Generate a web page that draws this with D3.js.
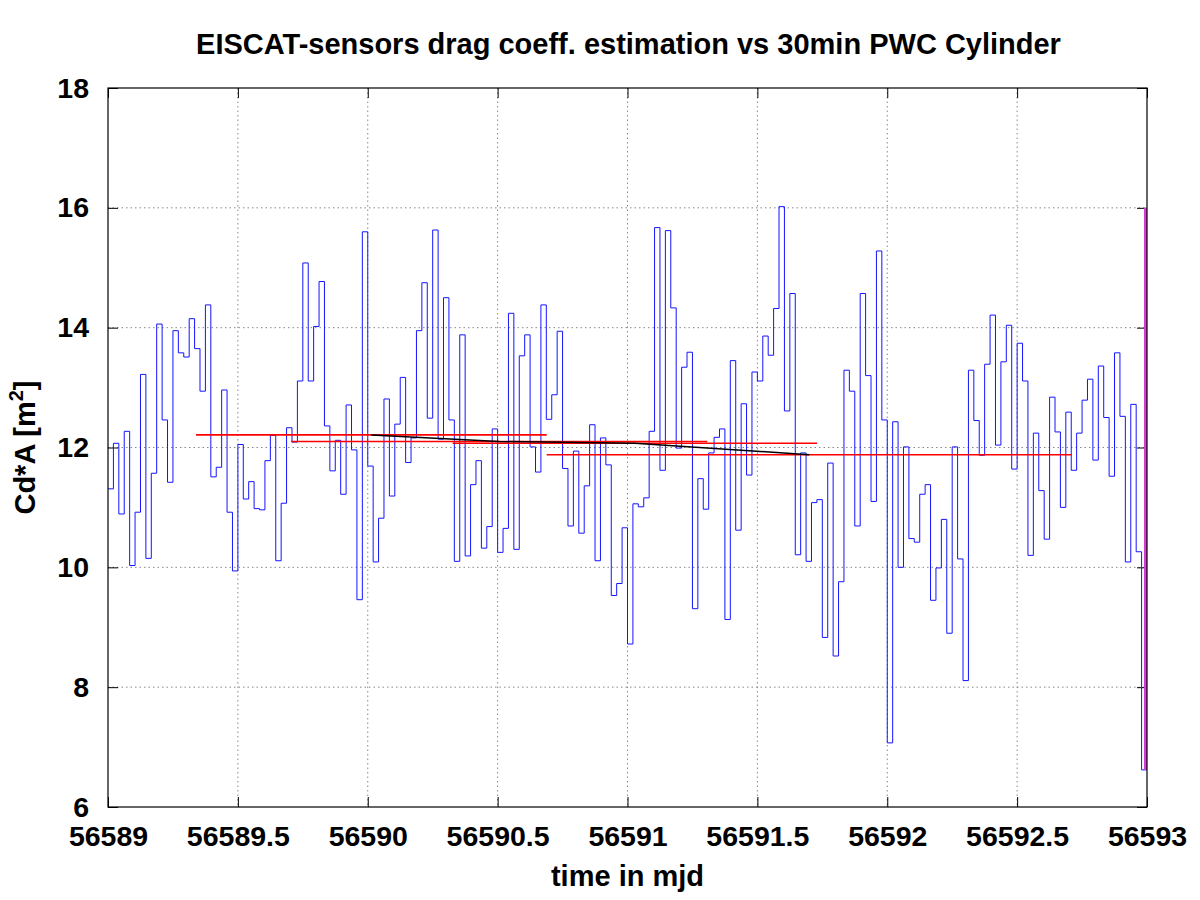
<!DOCTYPE html>
<html>
<head>
<meta charset="utf-8">
<script src="https://cdn.jsdelivr.net/npm/d3@7"></script>
<style>
  body { margin: 0; background: #fff; }
  svg { display: block; }
  text { font-family: "Liberation Sans", Arial, sans-serif; font-weight: bold; fill: #000; }
</style>
</head>
<body>
<svg id="chart" width="1200" height="900"></svg>
<script>
/* Cd*A estimado a partir dos sensores EISCAT, degraus de 30 min */

const BIN_START = 56589;          // mjd do primeiro degrau
const BIN_MINUTES = 30;
const cdaSteps = [
  11.31, 12.07, 10.89, 12.27, 10.03, 10.92, 13.22, 10.15, 11.57, 14.06, 12.46, 11.42,
  13.95, 13.58, 13.51, 14.15, 13.65, 12.94, 14.38, 11.51, 11.67, 12.96, 10.92, 9.94,
  12.05, 11.14, 11.43, 10.98, 10.96, 11.78, 12.20, 10.11, 11.07, 12.33, 12.09, 13.11,
  15.08, 13.11, 14.02, 14.77, 12.36, 11.61, 12.12, 11.22, 12.71, 11.96, 9.46, 15.60,
  11.69, 10.09, 10.82, 12.81, 11.19, 12.39, 13.17, 11.75, 12.16, 13.95, 14.75, 12.49,
  15.63, 12.14, 14.50, 12.46, 10.10, 13.88, 10.19, 11.38, 11.78, 10.32, 10.68, 12.31,
  10.25, 10.65, 14.24, 10.30, 13.53, 13.88, 12.01, 11.59, 14.38, 12.47, 12.88, 13.94,
  11.65, 10.69, 11.94, 10.57, 11.36, 12.38, 10.11, 12.16, 11.71, 9.53, 9.73, 10.66,
  8.72, 11.06, 11.01, 11.16, 12.27, 15.67, 11.62, 15.62, 14.33, 11.99, 13.34, 13.59,
  9.31, 11.48, 10.97, 11.91, 12.17, 12.31, 9.13, 13.45, 10.62, 12.73, 11.54, 13.26,
  13.11, 13.86, 13.54, 14.32, 16.02, 12.61, 14.57, 10.21, 11.91, 10.10, 11.08, 11.13,
  8.83, 11.74, 8.52, 9.76, 13.29, 12.94, 10.69, 14.57, 13.20, 11.10, 15.28, 12.46,
  7.07, 12.43, 10.00, 12.01, 10.48, 10.42, 11.22, 11.38, 9.45, 9.99, 10.80, 8.90,
  12.01, 10.14, 8.11, 13.29, 12.45, 11.87, 13.39, 14.21, 12.04, 13.43, 14.04, 11.64,
  13.74, 13.11, 10.20, 12.24, 11.28, 10.47, 12.84, 12.26, 11.00, 12.59, 11.62, 12.24,
  12.79, 13.14, 11.79, 13.36, 12.50, 11.52, 13.58, 12.52, 10.09, 12.72, 10.26, 6.62,
];

// médias por janela (segmentos vermelhos)
const fitStart = [56589.339, 56589.705, 56590.327, 56590.689];
const fitEnd   = [56590.689, 56591.307, 56591.730, 56592.711];
const fitValue = [12.21, 12.10, 12.07, 11.88];

// tendência ligando os centros das janelas
const trendT = [56590.014, 56590.506, 56591.028, 56591.700];
const trendV = [12.21, 12.10, 12.07, 11.88];

// traço magenta na borda direita
const edgeT = [56593, 56593];
const edgeV = [6.62, 16.0];

const xTicks = [56589, 56589.5, 56590, 56590.5, 56591, 56591.5, 56592, 56592.5, 56593];
const yTicks = [6, 8, 10, 12, 14, 16, 18];

const TITLE = "EISCAT-sensors drag coeff. estimation vs 30min PWC Cylinder";
const XLABEL = "time in mjd";

const L = 108, R = 1147, T = 88, B = 807;
const svg = d3.select("#chart");
const x = d3.scaleLinear().domain([56589, 56593]).range([L, R]);
const y = d3.scaleLinear().domain([6, 18]).range([B, T]);

/* grade pontilhada */
const grid = svg.append("g").attr("stroke", "#888").attr("stroke-width", 1)
  .attr("stroke-dasharray", "1.5,3");
grid.selectAll("line.gx").data(xTicks.slice(1, -1)).join("line")
  .attr("x1", (d) => x(d)).attr("x2", (d) => x(d)).attr("y1", T).attr("y2", B);
grid.selectAll("line.gy").data(yTicks.slice(1, -1)).join("line")
  .attr("y1", (d) => y(d)).attr("y2", (d) => y(d)).attr("x1", L).attr("x2", R);

/* eixos, ticks para dentro nos quatro lados */
const fmt = (d) => String(d);
const eixo = (gen, tx, ty, labels) => {
  const g = svg.append("g").attr("transform", `translate(${tx},${ty})`).call(gen);
  g.select(".domain").remove();
  g.selectAll(".tick line").attr("stroke", "#000").attr("stroke-width", 1);
  g.selectAll("text").attr("font-size", labels ? 28.5 : 0)
    .style("font-family", '"Liberation Sans", Arial, sans-serif').style("font-weight", "bold");
  return g;
};
eixo(d3.axisBottom(x).tickValues(xTicks).tickFormat(fmt).tickSize(-10).tickSizeOuter(0).tickPadding(19), 0, B, true);
eixo(d3.axisTop(x).tickValues(xTicks).tickFormat("").tickSize(-10).tickSizeOuter(0), 0, T, false);
eixo(d3.axisLeft(y).tickValues(yTicks).tickFormat(fmt).tickSize(-10).tickSizeOuter(0).tickPadding(19), L, 0, true);
eixo(d3.axisRight(y).tickValues(yTicks).tickFormat("").tickSize(-10).tickSizeOuter(0), R, 0, false);

/* série em degraus */
const pts = cdaSteps.map((v, i) => ({ t: BIN_START + i * BIN_MINUTES / 1440, v }));
pts.push({ t: BIN_START + cdaSteps.length * BIN_MINUTES / 1440, v: cdaSteps[cdaSteps.length - 1] });
svg.append("path").datum(pts)
  .attr("fill", "none").attr("stroke", "#1414ff").attr("stroke-width", 1)
  .attr("d", d3.line().x((d) => x(d.t)).y((d) => y(d.v)).curve(d3.curveStepAfter));

/* médias por janela */
svg.append("g").selectAll("line").data(fitValue).join("line")
  .attr("x1", (d, i) => x(fitStart[i])).attr("x2", (d, i) => x(fitEnd[i]))
  .attr("y1", (d) => y(d)).attr("y2", (d) => y(d))
  .attr("stroke", "#ff0000").attr("stroke-width", 1.6);

svg.append("path").datum(trendT.map((t, i) => [t, trendV[i]]))
  .attr("fill", "none").attr("stroke", "#000").attr("stroke-width", 1.5)
  .attr("d", d3.line().x((d) => x(d[0])).y((d) => y(d[1])));

svg.append("path").datum(edgeT.map((t, i) => [t, edgeV[i]]))
  .attr("fill", "none").attr("stroke", "#d040d0").attr("stroke-width", 3)
  .attr("transform", "translate(-1.5,0)")
  .attr("d", d3.line().x((d) => x(d[0])).y((d) => y(d[1])));

/* moldura */
svg.append("rect").attr("x", L).attr("y", T).attr("width", R - L).attr("height", B - T)
  .attr("fill", "none").attr("stroke", "#000").attr("stroke-width", 1.2);

/* textos */
svg.append("text").attr("x", (L + R) / 2 + 1).attr("y", 54)
  .attr("text-anchor", "middle").attr("font-size", 29).text(TITLE);
svg.append("text").attr("x", (L + R) / 2).attr("y", 886)
  .attr("text-anchor", "middle").attr("font-size", 29).text(XLABEL);
const yl = svg.append("text").attr("transform", `translate(35,${(T + B) / 2}) rotate(-90)`)
  .attr("text-anchor", "middle").attr("font-size", 29);
yl.append("tspan").text("Cd*A [m");
yl.append("tspan").attr("dy", -12).attr("font-size", 20).text("2");
yl.append("tspan").attr("dy", 12).text("]");
</script>
</body>
</html>
